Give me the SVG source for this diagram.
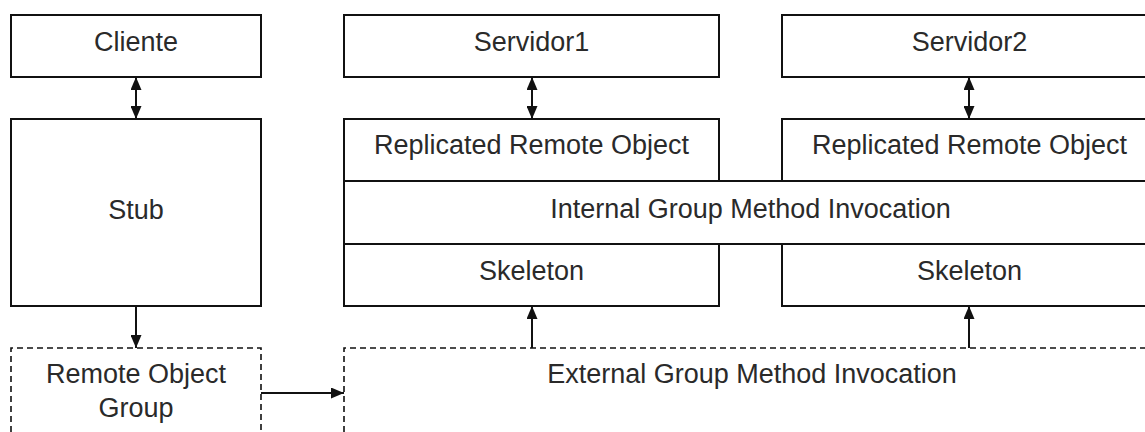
<svg xmlns="http://www.w3.org/2000/svg" width="1145" height="432" viewBox="0 0 1145 432">
<style>
.box{fill:#fff;stroke:#111;stroke-width:2}
.dash{fill:none;stroke:#111;stroke-width:1.6;stroke-dasharray:6 4}
.conn{fill:none;stroke:#111;stroke-width:2}
text{font-family:"Liberation Sans",Arial,sans-serif;font-size:27px;fill:#2a2a2a;text-anchor:middle}
</style>
<defs>
<marker id="ah" markerUnits="userSpaceOnUse" markerWidth="13" markerHeight="11" refX="13" refY="5.5" orient="auto-start-reverse">
<path d="M0,0 L13,5.5 L0,11 Z" fill="#111"/>
</marker>
</defs>
<rect width="1145" height="432" fill="#fff"/>
<g id="cliente"><rect class="box" x="11" y="15" width="250" height="62"/><text x="136" y="51">Cliente</text></g>
<g id="stub"><rect class="box" x="11" y="119" width="250" height="187"/><text x="136" y="219">Stub</text></g>
<g id="rog"><path class="dash" d="M11,432 V348 H261 V432"/><text x="136" y="383">Remote Object</text><text x="136" y="417">Group</text></g>
<g id="servidor1"><rect class="box" x="344" y="15" width="375" height="62"/><text x="531.5" y="51">Servidor1</text></g>
<g id="servidor2"><rect class="box" x="782" y="15" width="375" height="62"/><text x="969.5" y="51">Servidor2</text></g>
<g id="rro1"><rect class="box" x="344" y="119" width="375" height="62"/><text x="531.5" y="154">Replicated Remote Object</text></g>
<g id="rro2"><rect class="box" x="782" y="119" width="375" height="62"/><text x="969.5" y="154">Replicated Remote Object</text></g>
<g id="internal"><rect class="box" x="344" y="181" width="813" height="63"/><text x="750.5" y="218">Internal Group Method Invocation</text></g>
<g id="skeleton1"><rect class="box" x="344" y="244" width="375" height="62"/><text x="531.5" y="280">Skeleton</text></g>
<g id="skeleton2"><rect class="box" x="782" y="244" width="375" height="62"/><text x="969.5" y="280">Skeleton</text></g>
<g id="external"><path class="dash" d="M344,432 V348 H1150"/><text x="752" y="383">External Group Method Invocation</text></g>
<g id="connectors">
<line class="conn" x1="136" y1="77" x2="136" y2="119" marker-start="url(#ah)" marker-end="url(#ah)"/>
<line class="conn" x1="532" y1="77" x2="532" y2="119" marker-start="url(#ah)" marker-end="url(#ah)"/>
<line class="conn" x1="969" y1="77" x2="969" y2="119" marker-start="url(#ah)" marker-end="url(#ah)"/>
<line class="conn" x1="136" y1="306" x2="136" y2="348" marker-end="url(#ah)"/>
<line class="conn" x1="261" y1="393" x2="344" y2="393" marker-end="url(#ah)"/>
<line class="conn" x1="532" y1="348" x2="532" y2="306" marker-end="url(#ah)"/>
<line class="conn" x1="969" y1="348" x2="969" y2="306" marker-end="url(#ah)"/>
</g>
</svg>
